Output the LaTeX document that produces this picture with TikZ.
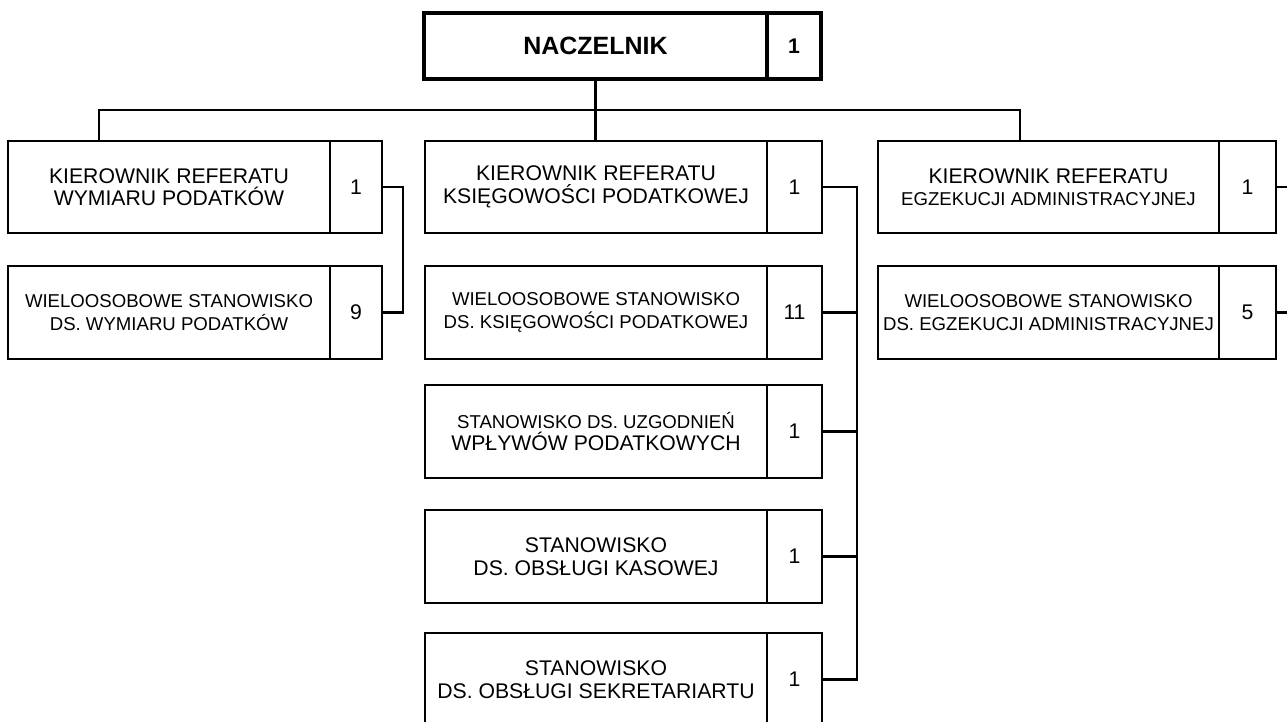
\documentclass[tikz,border=0pt]{standalone}
\usepackage{fontspec}
\setmainfont{Liberation Sans}
\newcommand\bigf{\fontsize{10.6}{11.2}\selectfont}
\newcommand\smallf{\fontsize{9.3}{9.8}\selectfont}
\tikzset{
  cell/.style={draw, line width=1.2pt, inner sep=1pt, outer sep=0pt, anchor=north west, align=center, font=\bigf},
  topcell/.style={cell, line width=2pt},
  conn/.style={line width=1.2pt},
}
\newcommand\orgunit[8]{%
  \node[cell, minimum width=#4, minimum height=#6] (#1) at (#2,#3) {#7};
  \node[cell, minimum width=#5, minimum height=#6] (#1n) at (#1.north east) {#8};}
\begin{document}
\begin{tikzpicture}[x=0.5pt,y=-0.5pt]
\useasboundingbox (0,0) rectangle (1287,722);
% top
\node[topcell, minimum width=171.5pt, minimum height=33pt, font=\fontsize{12.5}{13}\selectfont\bfseries] (top) at (424,13) {NACZELNIK};
\node[topcell, minimum width=27pt, minimum height=33pt, font=\bigf\bfseries] (topn) at (top.north east) {1};
% left column
\orgunit{lk}{8}{141}{161pt}{26pt}{46pt}{KIEROWNIK REFERATU\\WYMIARU PODATKÓW}{1}
\orgunit{lw}{8}{266}{161pt}{26pt}{46.5pt}{\smallf WIELOOSOBOWE STANOWISKO\\\smallf DS. WYMIARU PODATKÓW}{9}
% middle column
\orgunit{mk}{425}{141}{171pt}{27.5pt}{46pt}{KIEROWNIK REFERATU\\KSIĘGOWOŚCI PODATKOWEJ}{1}
\orgunit{mw}{425}{266}{171pt}{27.5pt}{46.5pt}{\smallf WIELOOSOBOWE STANOWISKO\\\smallf DS. KSIĘGOWOŚCI PODATKOWEJ}{11}
\orgunit{mu}{425}{385}{171pt}{27.5pt}{46.5pt}{\smallf STANOWISKO DS. UZGODNIEŃ\\WPŁYWÓW PODATKOWYCH}{1}
\orgunit{mo}{425}{510}{171pt}{27.5pt}{46.5pt}{STANOWISKO\\DS. OBSŁUGI KASOWEJ}{1}
\orgunit{ms}{425}{633}{171pt}{27.5pt}{46.5pt}{STANOWISKO\\DS. OBSŁUGI SEKRETARIARTU}{1}
% right column
\orgunit{rk}{878}{141}{170.5pt}{28.5pt}{46pt}{KIEROWNIK REFERATU\\\smallf EGZEKUCJI ADMINISTRACYJNEJ}{1}
\orgunit{rw}{878}{266}{170.5pt}{28.5pt}{46.5pt}{\smallf WIELOOSOBOWE STANOWISKO\\\smallf DS. EGZEKUCJI ADMINISTRACYJNEJ}{5}
% bus
\coordinate (busL) at (99,110);
\coordinate (busR) at (1020,110);
\draw[conn] (top.south) -- (top.south |- mk.north);
\draw[conn] (busL |- lk.north) -- (busL) -- (busR) -- (busR |- rk.north);
% left connector
\draw[conn] (lkn.east) -- ++(21,0) coordinate (lv) |- (lwn.east);
% middle connector
\draw[conn] (mkn.east) -- ++(35,0) coordinate (mv) -- (mv |- msn.east) -- (msn.east);
\draw[conn] (mwn.east) -- (mv |- mwn.east);
\draw[conn] (mun.east) -- (mv |- mun.east);
\draw[conn] (mon.east) -- (mv |- mon.east);
% right stubs
\draw[conn] (rkn.east) -- ++(20,0);
\draw[conn] (rwn.east) -- ++(20,0);
\end{tikzpicture}
\end{document}
